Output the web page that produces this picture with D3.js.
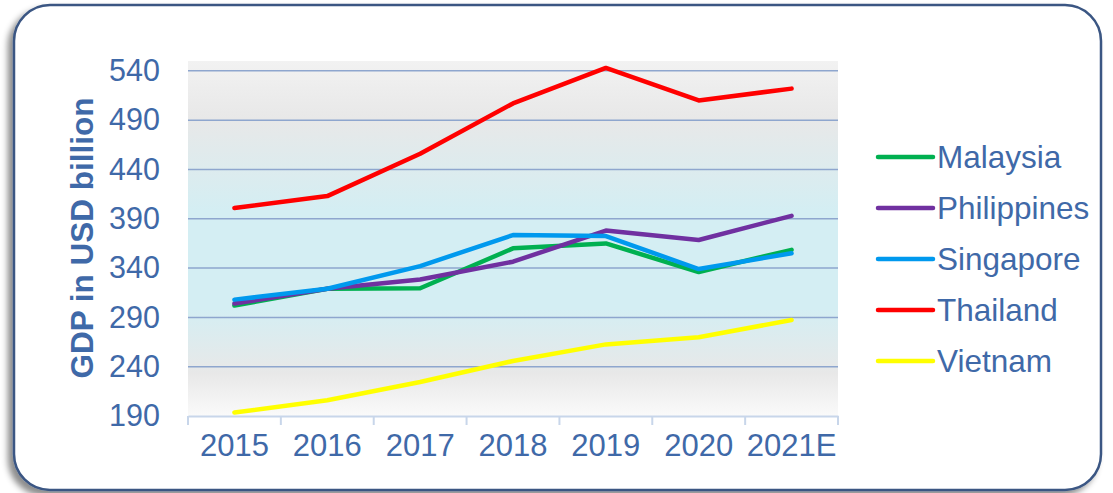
<!DOCTYPE html>
<html>
<head>
<meta charset="utf-8">
<script src="https://cdn.jsdelivr.net/npm/d3@7"></script>
<style>
  html, body { margin: 0; padding: 0; background: #ffffff; }
  svg { display: block; }
  text { font-family: "Liberation Sans", Arial, sans-serif; }
</style>
</head>
<body>
<svg id="chart" width="1113" height="493"></svg>
<script>
const categories = ["2015", "2016", "2017", "2018", "2019", "2020", "2021E"];
const seriesNames = ["Malaysia", "Philippines", "Singapore", "Thailand", "Vietnam"];
const malaysia    = [302, 319, 319.5, 360, 365, 336, 358.5];
const philippines = [304, 319, 328.5, 346.5, 378, 368.5, 393];
const singapore   = [308, 319, 342, 373.5, 372.5, 339, 355];
const thailand    = [401, 413, 456, 507, 543, 510, 522];
const vietnam     = [193.5, 206, 224.5, 245.8, 262.6, 269.8, 287.4];
const yTicks = [190, 240, 290, 340, 390, 440, 490, 540];
const colors = ["#00B050", "#7030A0", "#0099EE", "#FF0000", "#FFFF00"];
const yTitle = "GDP in USD billion";

const seriesValues = [malaysia, philippines, singapore, thailand, vietnam];
const textColor = "#3F69A8";

const svg = d3.select("#chart");
const defs = svg.append("defs");

// frame shadow
const f = defs.append("filter").attr("id", "shadow")
  .attr("x", "-5%").attr("y", "-5%").attr("width", "110%").attr("height", "110%");
f.append("feDropShadow").attr("dx", -5).attr("dy", 5).attr("stdDeviation", 3)
  .attr("flood-color", "#000").attr("flood-opacity", 0.45);

// plot gradient
const g = defs.append("linearGradient").attr("id", "bg")
  .attr("x1", 0).attr("y1", 0).attr("x2", 0).attr("y2", 1);
[[0, "#F2F2F2"], [0.16, "#E8E8E8"], [0.42, "#D4EEF3"], [0.7, "#D4EEF3"], [0.88, "#E8E8E8"], [1, "#FAFAFA"]]
  .forEach(([o, c]) => g.append("stop").attr("offset", o).attr("stop-color", c));

// frame
svg.append("rect")
  .attr("x", 14).attr("y", 5).attr("width", 1087).attr("height", 485)
  .attr("rx", 36).attr("ry", 36)
  .attr("fill", "#fff").attr("stroke", "#3A5683").attr("stroke-width", 2.5)
  .attr("filter", "url(#shadow)");

const pLeft = 188, pRight = 838, pTop = 61, pBottom = 416;

const x = d3.scaleBand().domain(categories).range([pLeft, pRight]).padding(0);
const y = d3.scaleLinear().domain([190, 550]).range([pBottom, pTop]);

// background
svg.append("rect").attr("x", pLeft).attr("y", pTop)
  .attr("width", pRight - pLeft).attr("height", pBottom - pTop)
  .attr("fill", "url(#bg)");

// gridlines
svg.append("g").selectAll("line").data(yTicks.slice(1)).join("line")
  .attr("x1", pLeft).attr("x2", pRight)
  .attr("y1", d => y(d)).attr("y2", d => y(d))
  .attr("stroke", "#8EA6CE").attr("stroke-width", 1.5);

// y axis labels
const yAxis = svg.append("g").attr("transform", `translate(${pLeft},0)`)
  .call(d3.axisLeft(y).tickValues(yTicks).tickSize(0).tickPadding(28));
yAxis.select(".domain").remove();
yAxis.selectAll("text").attr("fill", textColor).style("font-size", "30.5px")
  .style("font-family", "'Liberation Sans', Arial, sans-serif");

// x axis
const xAxis = svg.append("g").attr("transform", `translate(0,${pBottom})`)
  .call(d3.axisBottom(x).tickSize(0).tickPadding(18));
xAxis.select(".domain").attr("stroke", "#C8D6EA").attr("stroke-width", 2);
xAxis.selectAll("text").attr("fill", textColor).style("font-size", "31px")
  .style("font-family", "'Liberation Sans', Arial, sans-serif");
// tick marks at band boundaries
const bounds = categories.map(c => x(c)).concat([x(categories[categories.length - 1]) + x.bandwidth()]);
svg.append("g").selectAll("line").data(bounds).join("line")
  .attr("x1", d => d).attr("x2", d => d)
  .attr("y1", pBottom).attr("y2", pBottom + 9)
  .attr("stroke", "#C8D6EA").attr("stroke-width", 2);

// y title
svg.append("text")
  .attr("transform", `translate(93,238) rotate(-90)`)
  .attr("text-anchor", "middle")
  .attr("fill", textColor)
  .style("font-size", "31.5px").style("font-weight", "bold")
  .text(yTitle);

// lines
const line = d3.line()
  .x((d, i) => x(categories[i]) + x.bandwidth() / 2)
  .y(d => y(d));
svg.append("g").selectAll("path").data(seriesValues).join("path")
  .attr("d", d => line(d))
  .attr("fill", "none")
  .attr("stroke", (d, i) => colors[i])
  .attr("stroke-width", 4.5)
  .attr("stroke-linejoin", "round")
  .attr("stroke-linecap", "round");

// legend
const leg = svg.append("g").selectAll("g").data(seriesNames).join("g")
  .attr("transform", (d, i) => `translate(878,${157 + i * 51})`);
leg.append("line").attr("x1", 0).attr("x2", 55).attr("y1", 0).attr("y2", 0)
  .attr("stroke", (d, i) => colors[i]).attr("stroke-width", 4.5).attr("stroke-linecap", "round");
leg.append("text").attr("x", 59).attr("y", 0).attr("dy", "0.35em")
  .attr("fill", textColor).style("font-size", "31.5px").text(d => d);
</script>
</body>
</html>
